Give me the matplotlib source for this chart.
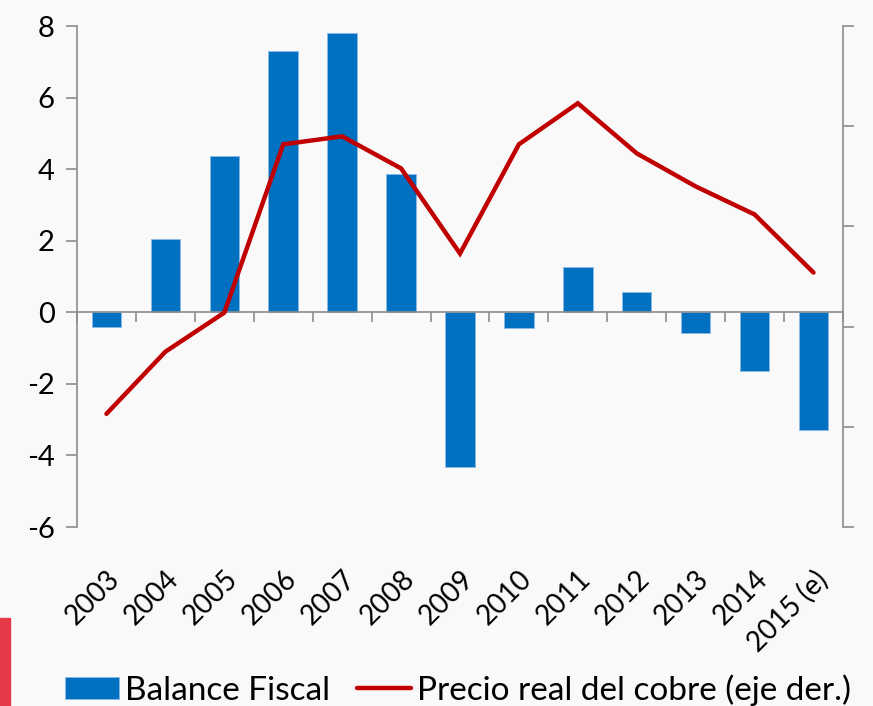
import matplotlib.pyplot as plt
import numpy as np
from matplotlib.patches import Rectangle

plt.rcParams['font.family'] = ['Lato', 'DejaVu Sans']
plt.rcParams['axes.unicode_minus'] = False

# data
years = ['2003', '2004', '2005', '2006', '2007', '2008', '2009',
         '2010', '2011', '2012', '2013', '2014', '2015 (e)']
balance_fiscal = [-0.42, 2.04, 4.38, 7.3, 7.8, 3.88, -4.33,
                  -0.45, 1.28, 0.56, -0.59, -1.65, -3.3]
precio_cobre = [113, 175, 214, 382, 390, 358, 273,
                382, 423, 373, 340, 312, 254]

BG = '#F9F9F9'
SPINE = '#8C8C8C'
FS = 20

fig = plt.figure(figsize=(8.73, 7.06), dpi=100, facecolor=BG)
ax = fig.add_axes([0.0882, 0.2535, 0.8774, 0.7095])
ax.set_facecolor(BG)

x = np.arange(len(years))
ax.bar(x, balance_fiscal, width=0.5, color='#0070C0', edgecolor='#8DB9E6',
       linewidth=0.6, label='Balance Fiscal', zorder=2)
ax.set_xlim(-0.5, len(years) - 0.5)
ax.set_ylim(-6, 8)
ax.set_yticks(np.arange(-6, 9, 2))
ax.tick_params(axis='y', direction='out', length=8, width=1.2, color=SPINE,
               labelsize=FS + 1, pad=8)

# zero axis line with boundary ticks
ax.spines['bottom'].set_position(('data', 0))
ax.spines['bottom'].set_color(SPINE)
ax.spines['bottom'].set_linewidth(1.2)
ax.set_xticks(np.arange(-0.5, len(years), 1.0))
ax.set_xticklabels([])
ax.tick_params(axis='x', direction='out', length=7, width=1.2, color=SPINE)
ax.spines['left'].set_color(SPINE)
ax.spines['left'].set_linewidth(1.2)
ax.spines['top'].set_visible(False)
ax.spines['right'].set_visible(False)

# year labels at the bottom of the plot area
sec = ax.secondary_xaxis(0)
sec.set_xticks(x)
sec.set_xticklabels(years, rotation=45, ha='right', va='top',
                    rotation_mode='anchor', fontsize=FS)
sec.tick_params(length=0, pad=28)
sec.spines['bottom'].set_visible(False)

# right axis for copper price
ax2 = ax.twinx()
ax2.plot(x, precio_cobre, color='#C00000', linewidth=3.2,
         label='Precio real del cobre (eje der.)', zorder=3,
         solid_capstyle='round', solid_joinstyle='miter')
ax2.set_ylim(0, 500)
ax2.set_yticks(np.arange(0, 501, 100))
ax2.set_yticklabels([])
ax2.tick_params(axis='y', direction='out', length=8, width=1.2, color=SPINE)
ax2.spines['right'].set_color(SPINE)
ax2.spines['right'].set_linewidth(1.2)
for s in ['top', 'left', 'bottom']:
    ax2.spines[s].set_visible(False)

h1, l1 = ax.get_legend_handles_labels()
h2, l2 = ax2.get_legend_handles_labels()
fig.legend(h1 + h2, l1 + l2, loc='lower center', ncol=2,
           bbox_to_anchor=(0.525, -0.042), frameon=False, fontsize=24,
           handlelength=1.6, handletextpad=0.2, columnspacing=0.8,
           handleheight=0.65)

# red strip at lower left
fig.patches.append(Rectangle((0, 0), 0.011, 0.125, transform=fig.transFigure,
                             color='#E8394B', zorder=0))

fig.savefig('out.png', dpi=100, facecolor=BG)
